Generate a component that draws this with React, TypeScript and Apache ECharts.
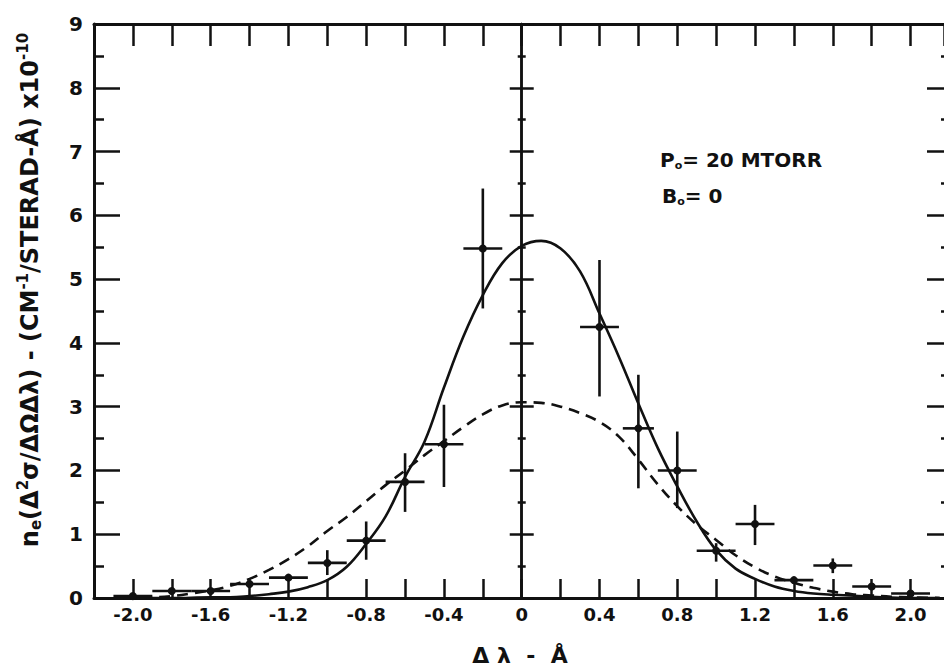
import React, { useEffect, useRef } from "react";
import * as echarts from "echarts";

// x tick values (every 0.2) and labelled ticks
const xLabelValues = [-2.0, -1.6, -1.2, -0.8, -0.4, 0, 0.4, 0.8, 1.2, 1.6, 2.0];
const yTickLabels = ["0", "1", "2", "3", "4", "5", "6", "7", "8", "9"];

// solid fitted curve
const solidX = [-2.05, -1.8, -1.6, -1.5, -1.4, -1.3, -1.2, -1.1, -1.0, -0.9, -0.8, -0.7, -0.6, -0.5, -0.4, -0.3, -0.2, -0.1, 0, 0.1, 0.2, 0.3, 0.4, 0.5, 0.6, 0.7, 0.8, 0.9, 1.0, 1.1, 1.2, 1.3, 1.4, 1.5, 1.6, 1.8, 2.0, 2.15];
const solidY = [0.0, 0.0, 0.01, 0.01, 0.03, 0.06, 0.1, 0.17, 0.28, 0.49, 0.85, 1.28, 1.9, 2.45, 3.3, 4.1, 4.75, 5.25, 5.52, 5.6, 5.48, 5.12, 4.46, 3.78, 3.05, 2.35, 1.75, 1.2, 0.75, 0.46, 0.3, 0.18, 0.11, 0.07, 0.05, 0.02, 0.0, 0.0];

// dashed fitted curve
const dashX = [-2.05, -1.9, -1.8, -1.7, -1.6, -1.5, -1.4, -1.3, -1.2, -1.1, -1.0, -0.9, -0.8, -0.7, -0.6, -0.5, -0.4, -0.3, -0.2, -0.1, 0, 0.1, 0.2, 0.3, 0.4, 0.5, 0.6, 0.7, 0.8, 0.9, 1.0, 1.1, 1.2, 1.3, 1.4, 1.5, 1.6, 1.7, 1.8, 1.9, 2.0, 2.15];
const dashY = [0, 0.01, 0.03, 0.07, 0.12, 0.19, 0.3, 0.44, 0.61, 0.81, 1.05, 1.27, 1.52, 1.77, 2.0, 2.24, 2.46, 2.68, 2.88, 3.02, 3.07, 3.06, 3.0, 2.9, 2.76, 2.53, 2.17, 1.78, 1.44, 1.15, 0.91, 0.67, 0.48, 0.34, 0.24, 0.16, 0.1, 0.06, 0.04, 0.02, 0.01, 0];

// measured points with error bars
const ptX = [-2.0, -1.8, -1.6, -1.4, -1.2, -1.0, -0.8, -0.6, -0.4, -0.2, 0.4, 0.6, 0.8, 1.0, 1.2, 1.4, 1.6, 1.8, 2.0];
const ptY = [0.03, 0.11, 0.11, 0.22, 0.32, 0.55, 0.9, 1.82, 2.41, 5.48, 4.25, 2.66, 2.0, 0.74, 1.16, 0.28, 0.51, 0.18, 0.07];
const ptXHalf = [0.1, 0.1, 0.1, 0.1, 0.1, 0.1, 0.1, 0.1, 0.1, 0.1, 0.1, 0.08, 0.1, 0.1, 0.1, 0.1, 0.1, 0.1, 0.1];
const ptYLow = [0.03, 0.11, 0.11, 0.22, 0.32, 0.36, 0.6, 1.35, 1.74, 4.54, 3.16, 1.72, 1.41, 0.57, 0.83, 0.28, 0.39, 0.18, 0.07];
const ptYHigh = [0.03, 0.11, 0.11, 0.22, 0.32, 0.75, 1.2, 2.27, 3.03, 6.42, 5.3, 3.5, 2.61, 0.86, 1.46, 0.28, 0.62, 0.18, 0.07];

// visible x-range (the right frame of the original lies just beyond the crop)
const X_MIN = -2.2;
const X_MAX = 2.172;

const INK = "#111111";
const FONT = "DejaVu Sans";

export default function App() {
  const ref = useRef<HTMLDivElement>(null);

  useEffect(() => {
    if (!ref.current) return;
    const chart = echarts.init(ref.current, undefined, { renderer: "svg" });

    const xAxisBase = {
      type: "value" as const,
      min: X_MIN,
      max: X_MAX,
      interval: 0.2,
      splitLine: { show: false },
      axisLine: { show: true, onZero: false, lineStyle: { color: INK, width: 3 } },
    };
    const yAxisBase = {
      type: "value" as const,
      min: 0,
      max: 9,
      interval: 1,
      splitLine: { show: false },
      minorSplitLine: { show: false },
    };

    const option: any = {
      animation: false,
      backgroundColor: "#ffffff",
      grid: { left: 94, right: 0, top: 24, bottom: 73 },
      xAxis: [
        {
          ...xAxisBase,
          position: "bottom",
          axisTick: { show: true, inside: true, length: 19, lineStyle: { color: INK, width: 2.5 } },
          axisLabel: {
            show: true,
            margin: 7,
            color: INK,
            fontFamily: FONT,
            fontWeight: "bold",
            fontSize: 18,
            showMaxLabel: false,
            formatter: (v: number) => {
              const hit = xLabelValues.find((t) => Math.abs(t - v) < 1e-6);
              if (hit === undefined) return "";
              return hit === 0 ? "0" : hit.toFixed(1);
            },
          },
        },
        {
          ...xAxisBase,
          position: "top",
          axisTick: { show: true, inside: true, length: 22, lineStyle: { color: INK, width: 2.5 } },
          axisLabel: { show: false },
        },
      ],
      yAxis: [
        {
          ...yAxisBase,
          position: "left",
          axisLine: { show: true, onZero: false, lineStyle: { color: INK, width: 3 } },
          axisTick: { show: true, inside: true, length: 26, lineStyle: { color: INK, width: 2.5 } },
          minorTick: { show: true, splitNumber: 2, length: 10, lineStyle: { color: INK, width: 2.5 } },
          axisLabel: {
            show: true,
            margin: 11,
            color: INK,
            fontFamily: FONT,
            fontWeight: "bold",
            fontSize: 20,
            formatter: (v: number) => yTickLabels[Math.round(v)] ?? "",
          },
        },
        {
          ...yAxisBase,
          position: "right",
          axisLine: { show: false, onZero: false },
          axisTick: { show: true, inside: true, length: 17, lineStyle: { color: INK, width: 2.5 } },
          minorTick: { show: true, splitNumber: 2, length: 3, lineStyle: { color: INK, width: 2.5 } },
          axisLabel: { show: false },
        },
        {
          ...yAxisBase,
          position: "left",
          axisLine: { show: true, onZero: true, onZeroAxisIndex: 0, lineStyle: { color: INK, width: 2.5 } },
          axisTick: { show: true, inside: true, length: 12, lineStyle: { color: INK, width: 2.5 } },
          minorTick: { show: true, splitNumber: 2, length: 4, lineStyle: { color: INK, width: 2.5 } },
          axisLabel: { show: false },
        },
        {
          ...yAxisBase,
          position: "right",
          axisLine: { show: true, onZero: true, onZeroAxisIndex: 0, lineStyle: { color: INK, width: 2.5 } },
          axisTick: { show: true, inside: true, length: 12, lineStyle: { color: INK, width: 2.5 } },
          minorTick: { show: true, splitNumber: 2, length: 4, lineStyle: { color: INK, width: 2.5 } },
          axisLabel: { show: false },
        },
      ],
      series: [
        {
          name: "solid",
          type: "line",
          xAxisIndex: 0,
          yAxisIndex: 0,
          data: solidX.map((x, i) => [x, solidY[i]]),
          smooth: 0.4,
          showSymbol: false,
          symbol: "none",
          lineStyle: { color: INK, width: 2.6 },
          z: 3,
        },
        {
          name: "dashed",
          type: "line",
          xAxisIndex: 0,
          yAxisIndex: 0,
          data: dashX.map((x, i) => [x, dashY[i]]),
          smooth: 0.4,
          showSymbol: false,
          symbol: "none",
          lineStyle: { color: INK, width: 2.6, type: [11, 7] },
          z: 3,
        },
        {
          name: "points",
          type: "custom",
          xAxisIndex: 0,
          yAxisIndex: 0,
          encode: { x: 0, y: 1 },
          data: ptX.map((x, i) => [x, ptY[i], ptXHalf[i], ptYLow[i], ptYHigh[i]]),
          renderItem: (params: any, api: any) => {
            const x = api.value(0);
            const y = api.value(1);
            const xh = api.value(2);
            const ylo = api.value(3);
            const yhi = api.value(4);
            const c = api.coord([x, y]);
            const l = api.coord([x - xh, y]);
            const r = api.coord([x + xh, y]);
            const t = api.coord([x, yhi]);
            const b = api.coord([x, ylo]);
            const st = { stroke: INK, lineWidth: 2.6, fill: null };
            const children: any[] = [
              { type: "line", shape: { x1: l[0], y1: l[1], x2: r[0], y2: r[1] }, style: st },
            ];
            if (yhi > ylo) {
              children.push({ type: "line", shape: { x1: t[0], y1: t[1], x2: b[0], y2: b[1] }, style: st });
            }
            children.push({ type: "circle", shape: { cx: c[0], cy: c[1], r: 4 }, style: { fill: INK } });
            return { type: "group", children };
          },
          z: 4,
        },
      ],
      graphic: [
        {
          type: "text",
          x: 30,
          y: 290,
          rotation: Math.PI / 2,
          style: {
            x: 0,
            y: 0,
            text: "{n|n}{sub|e}{n|(Δ}{sup|2}{n|σ/ΔΩΔλ) - (CM}{sup|-1}{n|/STERAD-Å) x10}{sup|-10}",
            align: "center",
            verticalAlign: "middle",
            textAlign: "center",
            textVerticalAlign: "middle",
            fill: INK,
            rich: {
              n: { fontFamily: FONT, fontWeight: "bold", fontSize: 24, fill: INK, color: INK },
              sup: { fontFamily: FONT, fontWeight: "bold", fontSize: 15, padding: [0, 0, 14, 0], fill: INK, color: INK },
              sub: { fontFamily: FONT, fontWeight: "bold", fontSize: 15, padding: [12, 0, 0, 0], fill: INK, color: INK },
            },
          },
        },
        {
          type: "text",
          x: 520,
          y: 655,
          style: {
            text: "Δ λ  -  Å",
            align: "center",
            verticalAlign: "middle",
            textAlign: "center",
            textVerticalAlign: "middle",
            fill: INK,
            font: `bold 22px "${FONT}"`,
          },
        },
        {
          type: "text",
          x: 660,
          y: 160,
          style: {
            text: "{n|P}{sub|o}{n|= 20 MTORR}",
            align: "left",
            verticalAlign: "middle",
            textAlign: "left",
            textVerticalAlign: "middle",
            fill: INK,
            rich: {
              n: { fontFamily: FONT, fontWeight: "bold", fontSize: 20, fill: INK, color: INK },
              sub: { fontFamily: FONT, fontWeight: "bold", fontSize: 11, padding: [10, 0, 0, 0], fill: INK, color: INK },
            },
          },
        },
        {
          type: "text",
          x: 662,
          y: 196,
          style: {
            text: "{n|B}{sub|o}{n|= 0}",
            align: "left",
            verticalAlign: "middle",
            textAlign: "left",
            textVerticalAlign: "middle",
            fill: INK,
            rich: {
              n: { fontFamily: FONT, fontWeight: "bold", fontSize: 20, fill: INK, color: INK },
              sub: { fontFamily: FONT, fontWeight: "bold", fontSize: 11, padding: [10, 0, 0, 0], fill: INK, color: INK },
            },
          },
        },
      ],
    };

    chart.setOption(option);
    return () => chart.dispose();
  }, []);

  return (
    <div
      ref={ref}
      style={{ position: "absolute", left: 0, top: 0, width: 944, height: 671, background: "#fff" }}
    />
  );
}
